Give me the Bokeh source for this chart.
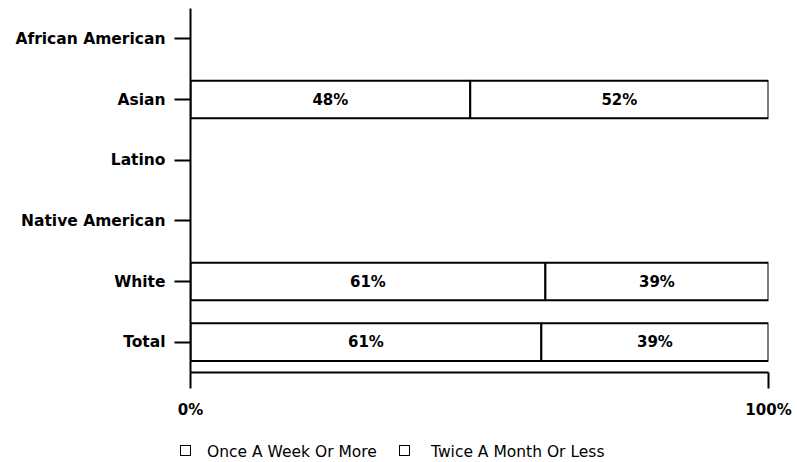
from bokeh.plotting import figure
from bokeh.layouts import column
from bokeh.core.properties import value
from bokeh.models import ColumnDataSource, FactorRange, FixedTicker, CustomJSTickFormatter, LabelSet, Div
from bokeh.embed import file_html
from bokeh.resources import INLINE

categories = ["African American", "Asian", "Latino", "Native American", "White", "Total"]
once_week = [0, 48.4, 0, 0, 61.4, 60.7]
twice_month = [0, 51.6, 0, 0, 38.6, 39.3]
once_labels = ["", "48%", "", "", "61%", "61%"]
twice_labels = ["", "52%", "", "", "39%", "39%"]
series_names = ["Once A Week Or More", "Twice A Month Or Less"]
x_ticks = [0, 100]

FONT = "DejaVu Sans"

has = [a + b > 0 for a, b in zip(once_week, twice_month)]
src = ColumnDataSource(dict(
    cat=[c for c, h in zip(categories, has) if h],
    a=[v for v, h in zip(once_week, has) if h],
    end=[a + b for a, b, h in zip(once_week, twice_month, has) if h],
    amid=[a / 2 for a, h in zip(once_week, has) if h],
    bmid=[a + b / 2 for a, b, h in zip(once_week, twice_month, has) if h],
    alab=[l for l, h in zip(once_labels, has) if h],
    blab=[l for l, h in zip(twice_labels, has) if h],
))

p = figure(width=797, height=424, y_range=FactorRange(factors=list(reversed(categories)), range_padding=0),
           x_range=(0, 100), output_backend="svg", toolbar_location=None,
           min_border_left=190, min_border_right=29, min_border_top=8, min_border_bottom=52)
p.outline_line_color = None
p.xgrid.grid_line_color = None
p.ygrid.grid_line_color = None

p.hbar(y="cat", left=0, right="a", height=0.62, source=src, fill_color="white",
       line_color="black", line_width=2)
p.hbar(y="cat", left="a", right="end", height=0.62, source=src, fill_color="white",
       line_color="black", line_width=2)

for xcol, lcol in (("amid", "alab"), ("bmid", "blab")):
    p.add_layout(LabelSet(x=xcol, y="cat", text=lcol, source=src, text_align="center",
                          text_baseline="middle", text_font=value(FONT), text_font_size="15px",
                          text_font_style="bold", text_color="black"))

p.xaxis.ticker = FixedTicker(ticks=x_ticks)
p.xaxis.formatter = CustomJSTickFormatter(code="return tick + '%';")
p.xaxis.major_tick_out = 16
p.xaxis.major_tick_in = 0
p.xaxis.minor_tick_line_color = None
p.xaxis.major_label_standoff = 12
p.xaxis.axis_line_width = 2
p.xaxis.major_tick_line_width = 2

p.yaxis.major_tick_out = 16
p.yaxis.major_tick_in = 0
p.yaxis.major_label_standoff = 9
p.yaxis.axis_line_width = 2
p.yaxis.major_tick_line_width = 2

for ax in (p.xaxis, p.yaxis):
    ax.major_label_text_font = FONT
    ax.major_label_text_font_style = "bold"
    ax.major_label_text_color = "black"
    ax.axis_line_color = "black"
    ax.major_tick_line_color = "black"
p.xaxis.major_label_text_font_size = "15px"
p.yaxis.major_label_text_font_size = "15.5px"

# legend strip (HTML, real text)
box_x = [180, 399]
text_x = [207, 431]
parts = []
for name, bx, tx in zip(series_names, box_x, text_x):
    parts.append(
        f'<span style="position:absolute;left:{bx}px;top:21px;width:11px;height:11px;'
        f'border:1.5px solid black;background:white;"></span>'
        f'<span style="position:absolute;left:{tx}px;top:19px;line-height:18px;'
        f'white-space:nowrap;">{name}</span>')
html = ('<div style="position:relative;width:797px;height:38px;font-family:\'DejaVu Sans\';'
        'font-size:15.5px;color:black;">' + "".join(parts) + '</div>')
lg = Div(text=html, width=797, height=38, margin=(0, 0, 0, 0))

layout = column(p, lg, spacing=0)
open("out.html", "w").write(file_html(layout, INLINE))
